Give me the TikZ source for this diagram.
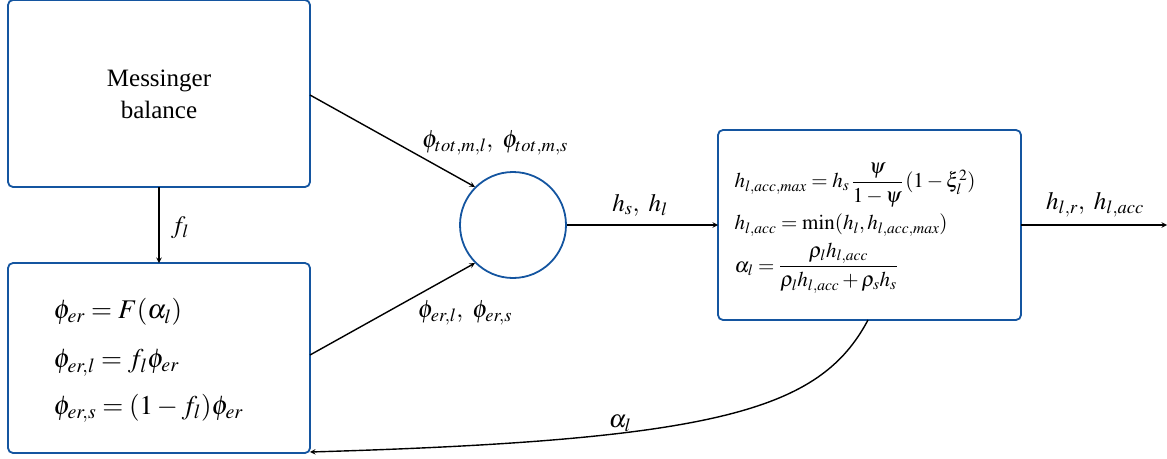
\documentclass[tikz,border=0pt]{standalone}
\usepackage{amsmath}
\usepackage{mathptmx}
\usepackage{fontspec}
\setmainfont{Liberation Serif}
\usetikzlibrary{calc}
\definecolor{boxblue}{RGB}{20,85,160}

\begin{document}
\begin{tikzpicture}[x=1pt, y=-1pt, font=\fontsize{25}{32}\selectfont,
  blk/.style={draw=boxblue, line width=1.8pt, rounded corners=5pt},
  flow/.style={-stealth, line width=1.4pt}]
  \useasboundingbox (0,0) rectangle (1167,458);
  % blocks
  \draw[blk] (8,0) rectangle (310,187);
  \node[align=center] (mb) at (159,94) {Messinger\\balance};
  \coordinate (mbt) at (310,95);
  \coordinate (mbb) at (159,187);
  \draw[blk] (8,263) rectangle (310,453);
  \coordinate (ert) at (159,263);
  \coordinate (err) at (310,355);
  \coordinate (erb) at (310,452);
  \begin{scope}[font=\fontsize{27}{32}\selectfont]
    \node[anchor=west] (eq1) at (50,312) {$\phi_{er} = F(\alpha_l)$};
    \node[anchor=west] (eq2) at (50,363) {$\phi_{er,l} = f_l\phi_{er}$};
    \node[anchor=west] (eq3) at (50,408) {$\phi_{er,s} = (1-f_l)\phi_{er}$};
  \end{scope}
  \node[circle, draw=boxblue, line width=1.8pt, minimum size=106pt, inner sep=0pt] (mix) at (513,225) {};
  \draw[blk] (718,130) rectangle (1021,320);
  \coordinate (acl) at (718,225);
  \coordinate (acr) at (1021,225);
  \coordinate (acb) at (868,320);
  \coordinate (out) at (1167,225);
  \begin{scope}[font=\fontsize{21}{25}\selectfont]
    \node[anchor=west] (ac1) at (731,185) {$h_{l,acc,max} = h_s\,\dfrac{\psi}{1-\psi}\,(1-\xi_l^2)$};
    \node[anchor=west] (ac2) at (731,225) {$h_{l,acc} = \min(h_l,h_{l,acc,max})$};
    \node[anchor=west] (ac3) at (731,268) {$\alpha_l = \dfrac{\rho_l h_{l,acc}}{\rho_l h_{l,acc}+\rho_s h_s}$};
  \end{scope}
  % connectors
  \draw[flow] (mbb) -- (ert);
  \node (fl) at (180,228) {$f_l$};
  \draw[flow] (mbt) -- (mix.north west);
  \node (tot) at (495,143) {$\phi_{tot,m,l},\ \phi_{tot,m,s}$};
  \draw[flow] (err) -- (mix.south west);
  \node (ers) at (465,313) {$\phi_{er,l},\ \phi_{er,s}$};
  \draw[flow] (mix) -- (acl);
  \node (hsl) at (640,205) {$h_s,\ h_l$};
  \draw[flow] (acr) -- (out);
  \node (hlr) at (1095,205) {$h_{l,r},\ h_{l,acc}$};
  \draw[flow] (acb) .. controls (820,410) and (720,440) .. (erb);
  \node (al) at (620,423) {$\alpha_l$};
\end{tikzpicture}
\end{document}
